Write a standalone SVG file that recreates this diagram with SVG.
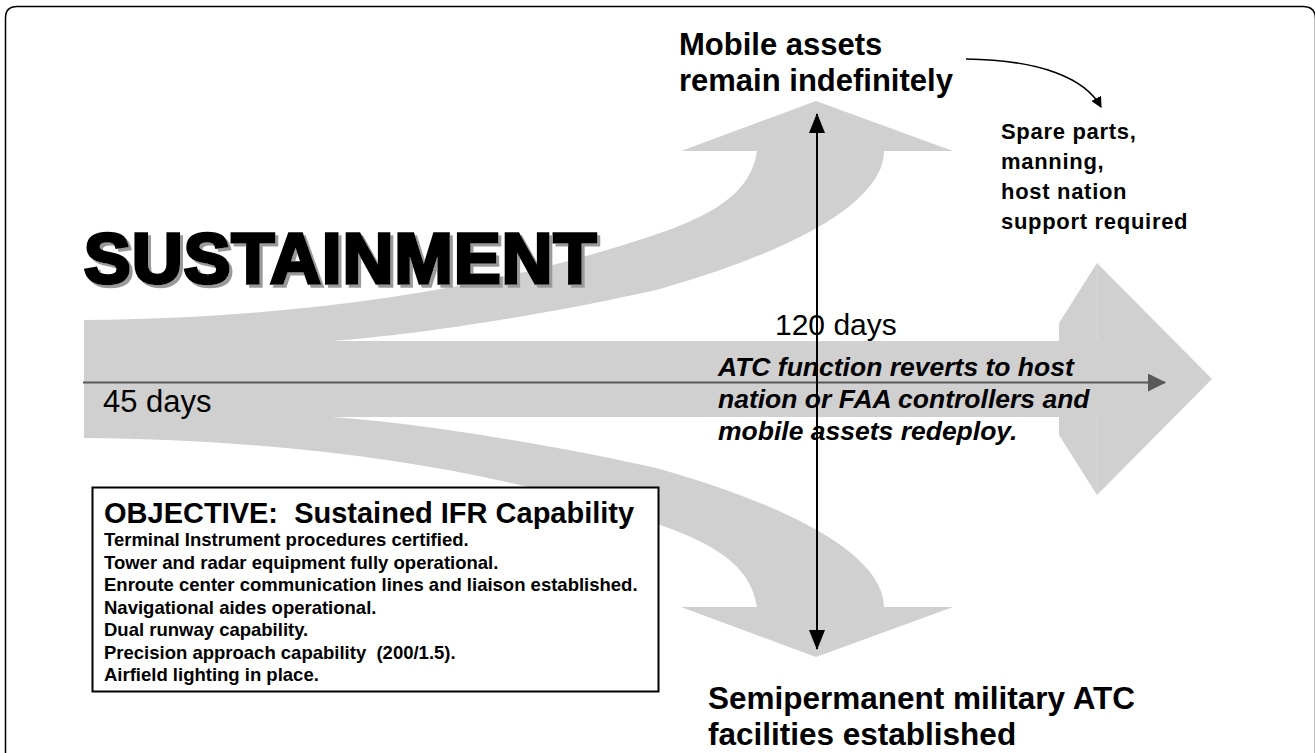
<svg xmlns="http://www.w3.org/2000/svg" xmlns:xlink="http://www.w3.org/1999/xlink" width="1315" height="753" viewBox="0 0 1315 753">
<style>
text{font-family:"Liberation Sans",Arial,Helvetica,sans-serif;fill:#000}
.b{font-weight:bold}
.bi{font-weight:bold;font-style:italic}
.band{fill:#d0d0d0}
</style>
<defs>
<filter id="shadow" x="-5%" y="-20%" width="115%" height="150%">
<feOffset in="SourceAlpha" dx="3" dy="3" result="o"/>
<feFlood flood-color="#9a9a9a"/>
<feComposite in2="o" operator="in" result="s"/>
<feMerge><feMergeNode in="s"/><feMergeNode in="SourceGraphic"/></feMerge>
</filter>
<path id="upperBranch" d="M84,320 C300,318 480,290 620,246 C700,222 750,200 757,151 L681,151 L816,101 L953,151 L884,151 C884,190 830,240 660,289 C560,312 420,335 332,341 L84,341 Z"/>
<marker id="blk" viewBox="0 0 20 16" refX="19" refY="8" markerWidth="20" markerHeight="16" markerUnits="userSpaceOnUse" orient="auto-start-reverse"><path d="M0,0 L20,8 L0,16 Z" fill="#000"/></marker>
<marker id="gry" viewBox="0 0 18 18" refX="17" refY="9" markerWidth="18" markerHeight="18" markerUnits="userSpaceOnUse" orient="auto"><path d="M0,0 L18,9 L0,18 Z" fill="#595959"/></marker>
<marker id="sm" viewBox="0 0 10 10" refX="9" refY="5" markerWidth="11" markerHeight="11" markerUnits="userSpaceOnUse" orient="auto"><path d="M0,0 L10,5 L0,10 Z" fill="#000"/></marker>
</defs>
<rect width="1315" height="753" fill="#fff"/>
<path d="M5.5,753 V18 Q5.5,6.5 17,6.5 H1303 Q1315.5,6.5 1315.5,19 V753" fill="none" stroke="#000" stroke-width="1.5"/>

<g id="flow-shape">
<rect class="band" x="84" y="341" width="977" height="76"/>
<use xlink:href="#upperBranch" href="#upperBranch" class="band"/>
<use xlink:href="#upperBranch" href="#upperBranch" class="band" transform="translate(0,758) scale(1,-1)"/>
<path class="band" d="M1059,341 L1059,323 L1097,263 L1212,379 L1097,495 L1059,435 L1059,417 Z"/>
<path d="M1097.5,264 V341 M1097.5,417 V494" stroke="#dadada" stroke-width="1"/>
</g>

<g id="title">
<text x="84" y="283" font-size="70" class="b" stroke="#000" stroke-width="3.5" letter-spacing="1.2" filter="url(#shadow)">SUSTAINMENT</text>
</g>

<g id="connectors">
<line x1="83" y1="382.5" x2="1165" y2="382.5" stroke="#595959" stroke-width="2" marker-end="url(#gry)"/>
<line x1="817" y1="114" x2="817" y2="649" stroke="#000" stroke-width="2" marker-start="url(#blk)" marker-end="url(#blk)"/>
<path d="M966,59 C1040,60 1085,78 1101,107" fill="none" stroke="#000" stroke-width="1.5" marker-end="url(#sm)"/>
</g>

<g id="node-mobile">
<text x="679" y="55" font-size="31" class="b">Mobile assets</text>
<text x="679" y="91" font-size="31" class="b">remain indefinitely</text>
</g>

<g id="node-spare">
<text x="1001" y="139" font-size="22" class="b" letter-spacing="0.7">Spare parts,</text>
<text x="1001" y="169" font-size="22" class="b" letter-spacing="0.7">manning,</text>
<text x="1001" y="199" font-size="22" class="b" letter-spacing="0.7">host nation</text>
<text x="1001" y="229" font-size="22" class="b" letter-spacing="0.7">support required</text>
</g>

<g id="node-45">
<text x="103" y="412" font-size="31">45 days</text>
</g>

<g id="node-120">
<text x="775" y="335" font-size="30">120 days</text>
</g>

<g id="node-atc">
<text x="718" y="376" font-size="26.5" class="bi">ATC function reverts to host</text>
<text x="718" y="408" font-size="26.5" class="bi">nation or FAA controllers and</text>
<text x="718" y="440" font-size="26.5" class="bi">mobile assets redeploy.</text>
</g>

<g id="node-semi">
<text x="708" y="709" font-size="31.5" class="b">Semipermanent military ATC</text>
<text x="708" y="745" font-size="31.5" class="b">facilities established</text>
</g>

<g id="node-objective">
<rect x="92.5" y="487.5" width="566" height="204" fill="#fff" stroke="#000" stroke-width="2"/>
<text x="104" y="523" font-size="29" class="b">OBJECTIVE:&#160; Sustained IFR Capability</text>
<text x="104" y="546" font-size="18.5" class="b">Terminal Instrument procedures certified.</text>
<text x="104" y="568.5" font-size="18.5" class="b">Tower and radar equipment fully operational.</text>
<text x="104" y="591" font-size="18.5" class="b">Enroute center communication lines and liaison established.</text>
<text x="104" y="613.5" font-size="18.5" class="b">Navigational aides operational.</text>
<text x="104" y="636" font-size="18.5" class="b">Dual runway capability.</text>
<text x="104" y="658.5" font-size="18.5" class="b">Precision approach capability&#160; (200/1.5).</text>
<text x="104" y="681" font-size="18.5" class="b">Airfield lighting in place.</text>
</g>
</svg>
